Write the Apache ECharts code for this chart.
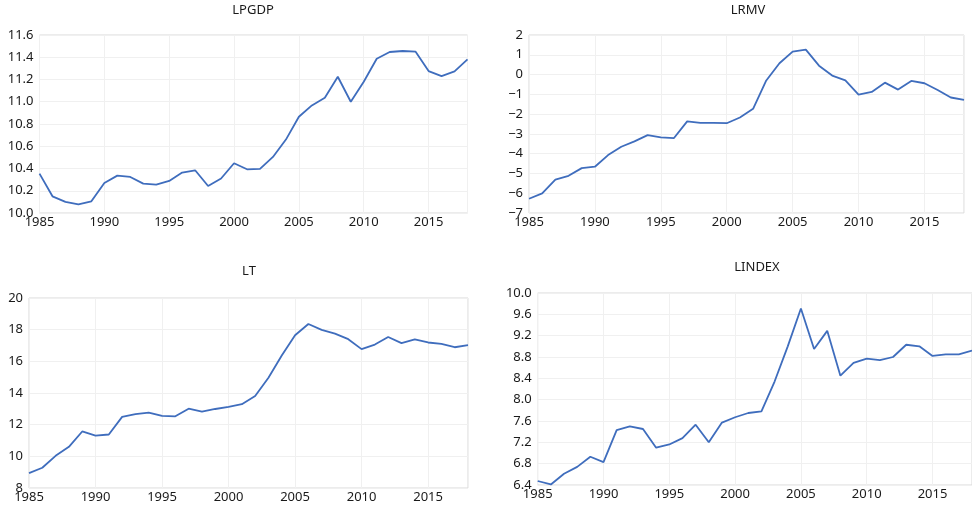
<!doctype html>
<html>
<head>
<meta charset="UTF-8">
<title>LPGDP LRMV LT LINDEX</title>
<style>
  html, body { margin: 0; padding: 0; background: #fff; }
  #main { width: 972px; height: 511px; }
</style>
</head>
<body>
<div id="main"></div>
<script src="https://cdn.jsdelivr.net/npm/echarts@6/dist/echarts.min.js"></script>
<script>
// 年份 1985-2018
var years = [];
for (var y = 1985; y <= 2018; y++) years.push(y);

var lpgdp = [10.354, 10.15, 10.10, 10.078, 10.105, 10.27, 10.336, 10.324, 10.264, 10.255,
  10.288, 10.363, 10.384, 10.243, 10.31, 10.447, 10.393, 10.396, 10.504, 10.66,
  10.865, 10.967, 11.036, 11.225, 11.0, 11.18, 11.387, 11.447, 11.456, 11.45,
  11.276, 11.231, 11.273, 11.381];
var lrmv = [-6.28, -6.01, -5.31, -5.12, -4.73, -4.66, -4.07, -3.65, -3.38, -3.06,
  -3.18, -3.21, -2.37, -2.44, -2.44, -2.46, -2.17, -1.73, -0.30, 0.57,
  1.16, 1.26, 0.45, -0.05, -0.29, -1.01, -0.88, -0.41, -0.76, -0.32,
  -0.44, -0.78, -1.16, -1.28];
var lt = [8.94, 9.28, 10.03, 10.60, 11.57, 11.31, 11.38, 12.49, 12.66, 12.76,
  12.55, 12.53, 13.01, 12.82, 12.99, 13.12, 13.29, 13.81, 14.96, 16.37,
  17.65, 18.36, 17.99, 17.75, 17.40, 16.77, 17.06, 17.54, 17.15, 17.38,
  17.19, 17.10, 16.89, 17.02];
var lindex = [6.475, 6.41, 6.61, 6.74, 6.93, 6.83, 7.43, 7.50, 7.45, 7.10,
  7.16, 7.28, 7.53, 7.20, 7.57, 7.67, 7.75, 7.78, 8.34, 9.00,
  9.71, 8.95, 9.29, 8.45, 8.69, 8.77, 8.74, 8.80, 9.03, 9.00,
  8.82, 8.85, 8.85, 8.92];

var names = ['LPGDP', 'LRMV', 'LT', 'LINDEX'];
var values = [lpgdp, lrmv, lt, lindex];
var yMin = [10.0, -7, 8, 6.4];
var yMax = [11.6, 2, 20, 10.0];
var yStep = [0.2, 1, 2, 0.4];
var yDec = [1, 0, 0, 1];

// 各面板位置
var grids = [
  {left: 39.5, top: 35, width: 428, height: 178},
  {left: 529, top: 35, width: 435, height: 178},
  {left: 29, top: 298, width: 439, height: 190},
  {left: 537.7, top: 293, width: 436, height: 192}
];
var titlePos = [[253, 4], [748, 4], [249, 265], [757, 261]];

var lineColor = '#3f6dbd';
var font = 'Noto Sans';

var chart = echarts.init(document.getElementById('main'));
var option = {
  animation: false,
  title: [], grid: [], xAxis: [], yAxis: [], series: []
};

for (var i = 0; i < 4; i++) {
  option.title.push({
    text: names[i],
    left: titlePos[i][0],
    top: titlePos[i][1],
    textAlign: 'center',
    padding: 0,
    textStyle: {fontFamily: font, fontSize: 13, fontWeight: 'normal', color: '#1a1a1a'}
  });
  option.grid.push({
    left: grids[i].left, top: grids[i].top,
    width: grids[i].width, height: grids[i].height,
    show: true, borderColor: '#d9d9d9', borderWidth: 1,
    containLabel: false
  });
  option.xAxis.push({
    type: 'value', gridIndex: i,
    min: 1985, max: 2018, interval: 5,
    axisLine: {show: false},
    axisTick: {show: false},
    splitLine: {show: true, lineStyle: {color: '#f0f0f0'}},
    axisLabel: {
      showMaxLabel: false, margin: 3,
      fontFamily: font, fontSize: 13, color: '#1a1a1a',
      formatter: function (v) { return String(v); }
    }
  });
  (function (d) {
    option.yAxis.push({
      type: 'value', gridIndex: i,
      min: yMin[i], max: yMax[i], interval: yStep[i],
      axisLine: {show: false},
      axisTick: {show: false},
      splitLine: {show: true, lineStyle: {color: '#f0f0f0'}},
      axisLabel: {
        margin: 6, fontFamily: font, fontSize: 13, color: '#1a1a1a',
        formatter: function (v) { return v.toFixed(d).replace('-', '\u2212'); }
      }
    });
  })(yDec[i]);
  option.series.push({
    name: names[i], type: 'line',
    xAxisIndex: i, yAxisIndex: i,
    showSymbol: false, symbol: 'none',
    lineStyle: {color: lineColor, width: 1.8},
    data: years.map(function (yr, k) { return [yr, values[i][k]]; })
  });
}

chart.setOption(option);
</script>
</body>
</html>
